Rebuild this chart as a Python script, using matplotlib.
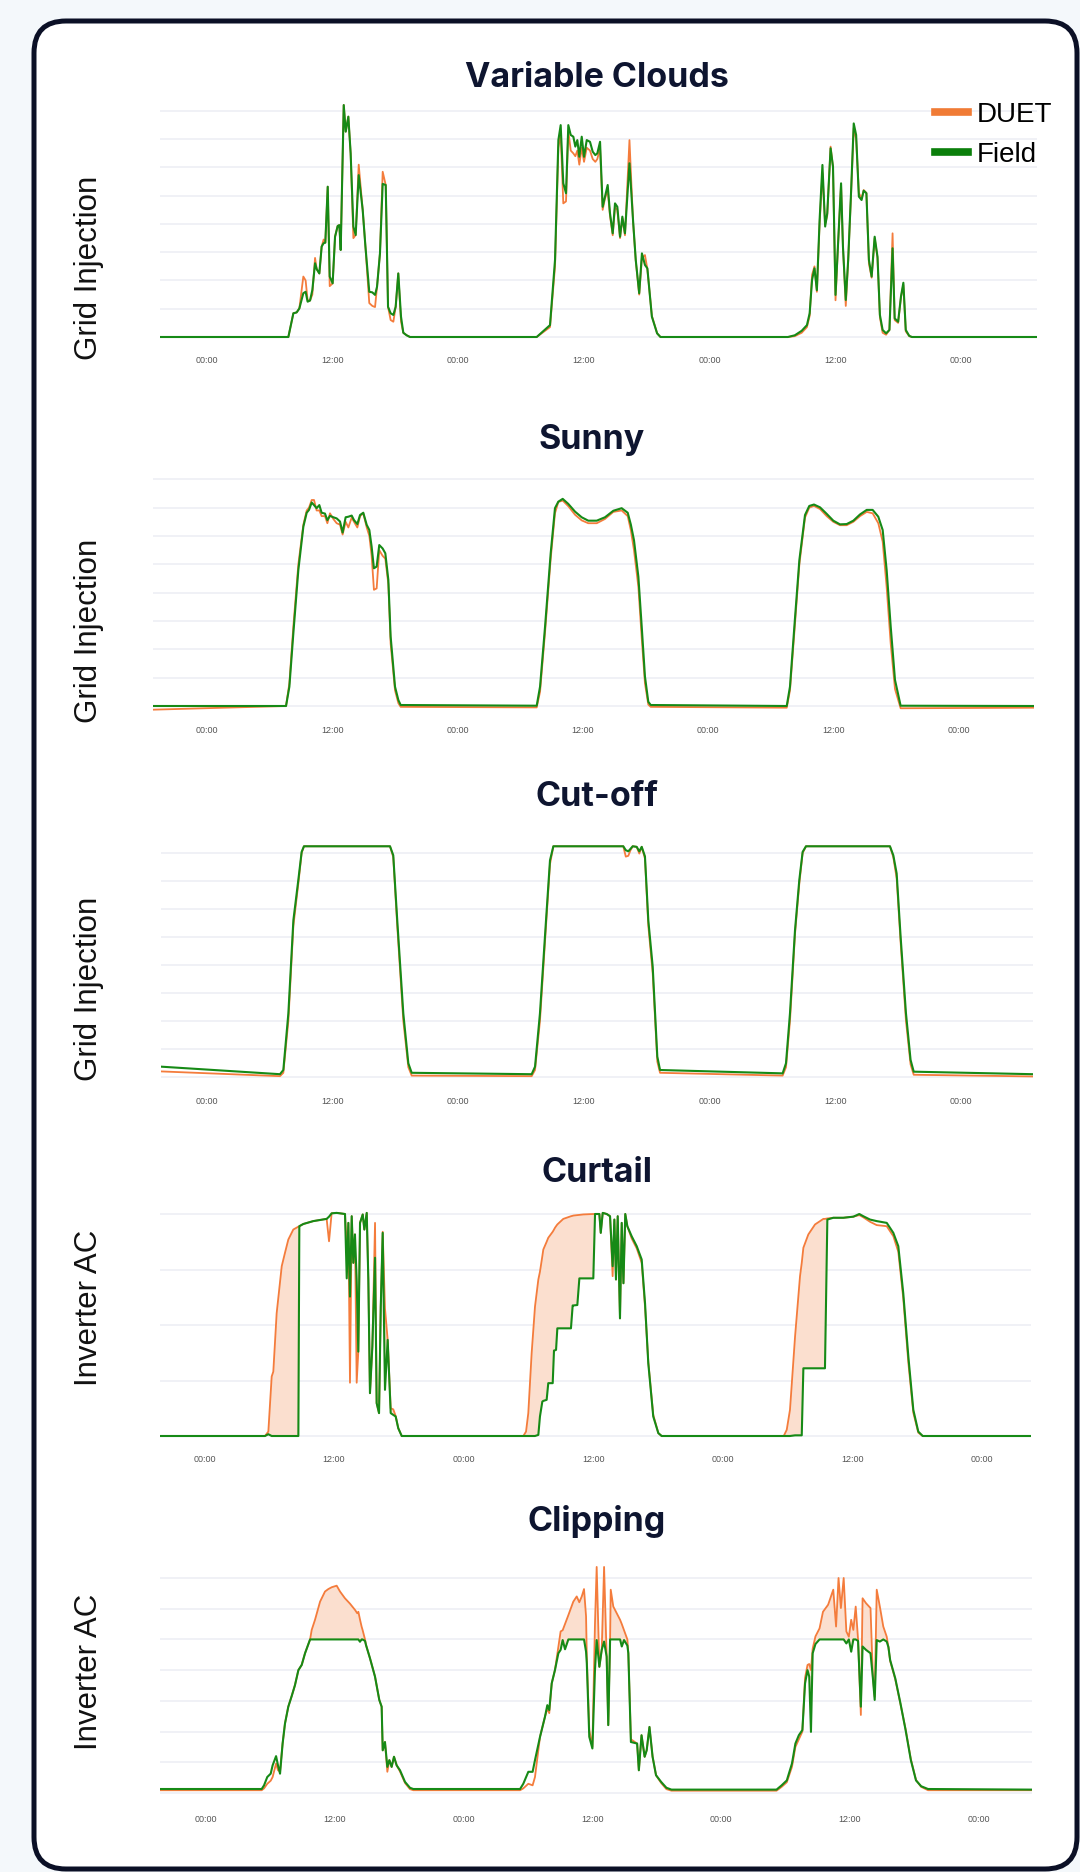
import numpy as np
import matplotlib.pyplot as plt
from matplotlib.lines import Line2D
from matplotlib.patches import FancyBboxPatch
from matplotlib.transforms import Affine2D

W, H = 1080, 1872
DPI = 100

hour_ticks = [0, 12, 24, 36, 48, 60, 72]
hour_labels = ['00:00', '12:00', '00:00', '12:00', '00:00', '12:00', '00:00']

# ---- Variable Clouds (grid injection, arbitrary units) ----
t_clouds = [
    -4.5, 7.77, 8.25, 8.56, 8.82, 9.2, 9.42, 9.61, 9.84, 10.06, 10.32, 10.48, 10.73, 10.95, 11.14, 11.3,
    11.53, 11.72, 12.0, 12.23, 12.48, 12.64, 12.77, 13.06, 13.25, 13.5, 13.72, 13.98, 14.2, 14.49, 14.87,
    15.12, 15.5, 15.79, 16.05, 16.24, 16.52, 16.78, 17.07, 17.29, 17.54, 17.8, 18.02, 18.27, 18.53, 18.75,
    19.07, 19.39,
    31.49, 32.76, 33.24, 33.56, 33.78, 34.03, 34.29, 34.51, 34.74, 34.99, 35.18, 35.37, 35.56, 35.79, 36.01,
    36.27, 36.58, 36.84, 37.09, 37.28, 37.54, 37.79, 38.01, 38.27, 38.49, 38.75, 38.97, 39.19, 39.45, 39.67,
    39.92, 40.35, 40.69, 40.95, 41.28, 41.54, 41.83, 42.06, 42.49, 42.99, 43.31,
    55.48, 56.14, 56.8, 57.3, 57.56, 57.79, 58.02, 58.25, 58.51, 58.78, 59.04, 59.24, 59.56, 59.79, 60.03,
    60.29, 60.56, 60.74, 61.01, 61.24, 61.51, 61.77, 62.0, 62.26, 62.52, 62.72, 62.98, 63.22, 63.48, 63.77,
    64.04, 64.27, 64.53, 64.86, 65.18, 65.48, 65.68, 66.01, 66.28, 66.51, 66.74, 67.07, 67.33, 79.3]
field_clouds = [
    0, 0, 8.4, 8.7, 10.1, 15.5, 16, 12.5, 12.9, 16.6, 26.1, 24, 22.5, 32, 33.2, 33.4,
    53.2, 21.4, 19, 35.5, 39.3, 39.6, 30.8, 82.1, 72.7, 78, 65, 39.1, 36.1, 57.3, 45,
    32.6, 16, 15.8, 14.9, 17.8, 29.6, 54.2, 53.8, 10.7, 8.4, 7.8, 10.7, 22.5, 7.2, 1.5,
    0.6, 0,
    0, 4.2, 27.3, 69.7, 75, 54.4, 50.9, 75, 71.5, 70.9, 67.4, 69.7, 63.8, 70.9, 63.8,
    69.7, 69.1, 65.6, 64.4, 65, 69.1, 46.1, 49.7, 53.8, 43.8, 36.7, 47.3, 46.1, 35.5, 42.6,
    36.7, 61.5, 41.4, 27.3, 15.5, 29.6, 25.5, 24.3, 7.2, 1.3, 0,
    0, 0.6, 2.2, 4.2, 8.4, 20.2, 24.3, 16.6, 41.4, 60.9, 39.1, 43.8, 66.8, 60.3, 14.9,
    34.3, 54.4, 32, 13.1, 27.3, 50.9, 75.6, 71.5, 49.7, 48.5, 51.8, 50.9, 27.3, 21.4, 35.5,
    28.4, 7.8, 2.5, 1.3, 2.5, 31.4, 6.6, 5.4, 14.3, 19.2, 2.5, 0.4, 0, 0]
duet_clouds = [
    0, 0, 8.4, 8.7, 10.1, 21.4, 20, 13, 12.9, 15, 28, 24, 22.5, 32, 34.5, 33.4,
    53.2, 18, 19, 35.5, 39.3, 39.6, 30.8, 82.1, 72.7, 78, 65, 35, 36.1, 61, 45,
    32.6, 12, 11, 10.6, 17.8, 29.6, 58.5, 53.8, 10.7, 6, 5.4, 10.7, 22.5, 5.5, 1.5,
    0.6, 0,
    0, 3.5, 25, 67, 72, 47.3, 48, 73, 66, 65, 64, 66, 61, 67, 62,
    67, 66, 63, 62, 63, 67, 45, 49, 52, 43, 36, 46, 45, 35, 42,
    36, 69.7, 41, 27, 15, 28, 29, 24, 7.5, 1.3, 0,
    0, 0.3, 1.5, 3.5, 7.5, 22, 25, 16, 40, 58, 40, 43, 67.4, 60, 13,
    34, 54, 32, 11, 27, 50, 74, 70, 51, 49, 52, 51, 26, 21, 35,
    28, 7, 1.5, 0.8, 2.5, 36.7, 6, 5, 14, 18.5, 2, 0.3, 0, 0]

# ---- Sunny ----
t_sunny = [
    -5.2, 7.57, 7.89, 8.27, 8.75, 9.23, 9.55, 9.77, 10.03, 10.25, 10.5, 10.76, 10.98, 11.3, 11.53,
    11.78, 12.1, 12.42, 12.74, 12.99, 13.28, 13.54, 13.86, 14.08, 14.4, 14.66, 14.97, 15.3, 15.55, 15.77,
    15.99, 16.25, 16.5, 16.82, 17.08, 17.37, 17.59, 18.01, 18.33, 18.55,
    31.58, 31.9, 32.38, 32.92, 33.33, 33.65, 34.07, 34.61, 35.25, 35.89, 36.52, 37.33, 38.12, 38.92, 39.72,
    40.3, 40.6, 40.9, 41.32, 41.64, 41.95, 42.27, 42.5,
    55.53, 55.84, 56.26, 56.74, 57.28, 57.69, 58.14, 58.72, 59.36, 59.99, 60.63, 61.27, 61.91, 62.55, 63.19,
    63.76, 64.3, 64.72, 65.1, 65.49, 65.9, 66.44, 79.24]
field_sunny = [
    0, 0, 6.8, 25.6, 48, 63.3, 68.2, 69.2, 71.8, 70.9, 69.8, 70.9, 68.2, 67.9, 65.6,
    67.1, 66.6, 66.2, 65.1, 61.2, 66.6, 66.8, 67.2, 65.6, 64.2, 67.4, 68.2, 63.9, 62.1, 56.2,
    48.6, 49.2, 56.8, 55.6, 53.9, 44.5, 24.5, 6.8, 2.1, 0.35,
    0.1, 6.8, 28, 53.9, 69.8, 72.1, 73.1, 71.3, 68.6, 66.6, 65.4, 65.4, 66.6, 68.9, 69.8,
    68.2, 64, 58.5, 45.6, 28, 10.4, 1.5, 0.35,
    0, 6.8, 28, 51.5, 67.4, 70.6, 71.1, 70.1, 67.8, 65.4, 64.1, 64.2, 65.4, 67.6, 69.2,
    69.2, 66.8, 62.1, 48, 28, 9.2, 0.1, 0.0]
duet_sunny = [
    -1.3, 0, 8, 28, 50, 64, 69, 70, 72.7, 72.7, 69, 69, 67, 67, 64.5,
    68, 66, 64.5, 64, 60.5, 65, 63, 66.5, 65, 63, 67, 68, 63, 60, 53,
    41, 41.5, 55, 53, 52, 43, 22, 5.5, 1, -0.3,
    -0.5, 5, 26, 52, 68, 72, 72.5, 70.5, 67.5, 65.5, 64.5, 64.5, 66, 68.5, 69,
    67, 62, 55, 42, 24, 8, 0.5, -0.3,
    -0.6, 5.5, 26, 50, 66.5, 70, 70.6, 69.5, 67, 65, 63.8, 63.8, 65, 67, 68.5,
    68, 64.5, 58, 42, 22, 6, -0.8, -0.6]

# ---- Cut-off ----
t_cutoff = [
    -4.42, 6.97, 7.29, 7.77, 8.25, 8.72, 9.04, 9.26, 17.48, 17.79, 18.17, 18.75, 19.23, 19.55,
    31.01, 31.33, 31.8, 32.38, 32.76, 33.08, 39.76, 40.0, 40.24, 40.45, 40.66, 41.04, 41.29, 41.52,
    41.83, 42.15, 42.57, 43.01, 43.27,
    54.98, 55.3, 55.68, 56.16, 56.57, 56.89, 57.21, 65.23, 65.55, 65.87, 66.25, 66.76, 67.2, 67.5, 78.9]
field_cutoff = [
    3.7, 1.0, 2.5, 22.7, 56, 70.3, 80.4, 82.4, 82.4, 79.2, 56, 22.7, 4.9, 1.5,
    1.0, 3.7, 22.7, 56, 77.4, 82.4, 82.4, 81, 80.6, 81.5, 82.4, 82.2, 80.6, 82.2,
    78.8, 56, 39.4, 7.3, 2.5,
    1.3, 4.9, 22.7, 52.4, 70.3, 80.4, 82.4, 82.4, 79.2, 72.7, 50, 22.7, 6.1, 1.9, 1.0]
duet_cutoff = [
    2.0, 0.3, 1.5, 20, 54, 69, 80, 82.4, 82.4, 78.5, 54, 20, 3.5, 0.5,
    0.3, 2.5, 20, 54, 76, 82.4, 82.4, 78.7, 79, 81, 82.4, 82.2, 79.8, 82.2,
    78, 54, 37, 5.5, 1.5,
    0.5, 3.5, 20, 51, 69, 80, 82.4, 82.4, 78.5, 71, 48, 20, 4.5, 0.8, 0.2]

# ---- Curtail (inverter AC, % of rating) ----
t_curtail = [
    -4.11, 5.61, 5.92, 6.23, 6.38, 6.69, 7.16, 7.46, 7.77, 8.23, 8.7, 8.79, 9.16, 10.08, 11.32,
    11.54, 11.78, 12.25, 13.02, 13.18, 13.33, 13.48, 13.64, 13.79, 13.94, 14.1, 14.25, 14.41, 14.66, 14.81,
    15.03, 15.18, 15.33, 15.55, 15.8, 15.95, 16.17, 16.33, 16.51, 16.72, 16.97, 17.25, 17.49, 17.71, 17.95,
    18.27, 29.53,
    29.78, 29.99, 30.3, 30.61, 30.92, 31.07, 31.29, 31.38, 31.69, 31.84, 32.25, 32.37, 32.46, 32.56, 32.68,
    33.23, 33.94, 34.1, 34.16, 34.53, 34.72, 35.08, 36.01, 36.17, 36.57, 36.7, 36.88, 37.25, 37.56, 37.8,
    37.96, 38.11, 38.27, 38.48, 38.64, 38.8, 38.97, 39.16, 39.56, 40.03, 40.49, 40.8, 41.1, 41.56, 42.03,
    42.34, 53.64,
    53.92, 54.22, 54.69, 55.15, 55.31, 55.46, 55.92, 56.54, 57.31, 57.46, 57.68, 58.23, 59.16, 60.09, 60.64,
    61.01, 61.63, 62.25, 63.18, 63.79, 64.25, 64.71, 65.18, 65.64, 66.1, 66.51, 76.54]
field_curtail = [
    0, 0, 0.8, 0, 0, 0, 0, 0, 0, 0, 0, 94.5, 95.5, 96.8, 97.8,
    98.8, 100.3, 100.5, 100, 71, 96, 62.8, 99, 78, 90.8, 70.3, 38, 96, 99.8, 93,
    100.5, 70.3, 19.3, 40.3, 80.3, 14.8, 10.3, 58.3, 91.5, 20.8, 43.3, 10.3, 9.5, 8.8, 3.5,
    0, 0,
    0, 0, 0, 0, 0.5, 8.8, 15.5, 15.8, 16.3, 23.8, 23.8, 38.5, 38.6, 38.8, 48.5,
    48.5, 48.5, 58.8, 58.8, 59, 71, 71, 71, 100, 100, 91.5, 100.5, 100, 99, 76.5,
    97.5, 70.5, 99, 53, 96, 68.8, 100, 94.5, 90, 85.5, 79.5, 59.8, 32.8, 8.8, 1.3,
    0, 0,
    0, 0, 0.3, 0.3, 0.3, 30.5, 30.5, 30.5, 30.5, 30.5, 97.5, 98.3, 98.3, 98.8, 100,
    99, 97.5, 96.8, 96, 91.5, 85.5, 64.3, 35.8, 11.8, 2, 0, 0]
duet_curtail = [
    0, 0, 2, 26.8, 29, 55.3, 76.5, 82.5, 88.5, 93, 94.3, 94.5, 95.5, 96.8, 97.8,
    87.7, 100.3, 100.5, 100, 85, 96, 24, 99, 78, 90.8, 24, 38, 96, 99.8, 93,
    100.5, 70.3, 19.3, 40.3, 96, 14.8, 10.3, 58.3, 92, 57.5, 43.3, 12.5, 12, 9, 3.5,
    0, 0,
    2, 10.3, 37.3, 58.3, 70.5, 74, 81, 84, 87.5, 89.3, 92, 93, 93.8, 94.5, 95.3,
    97.8, 99, 99.2, 99.3, 99.5, 99.6, 99.8, 100, 100, 100, 91.5, 100.5, 100, 99, 72,
    97.5, 70.5, 99, 53, 96, 68.8, 100, 94.5, 89, 84.5, 78, 58, 33.5, 9.5, 1.3,
    0, 0,
    2.8, 11.8, 44.8, 72, 78, 84.8, 90.8, 95.3, 97.8, 97.8, 98, 98.3, 98.3, 98.8, 99.5,
    98.5, 96.5, 95, 94.5, 90, 83, 62, 33, 10.5, 1.5, 0, 0]

# ---- Clipping (inverter AC, % of rating) ----
t_clipping = [
    -4.29, 5.19, 5.41, 5.71, 6.03, 6.21, 6.53, 6.71, 6.9, 7.14, 7.36, 7.67, 7.99, 8.29, 8.61,
    8.92, 9.23, 9.7, 9.85, 10.16, 10.63, 11.09, 11.4, 11.72, 12.18, 12.49, 12.95, 13.43, 13.89, 14.1,
    14.2, 14.35, 14.5, 14.6, 14.82, 14.91, 15.28, 15.75, 16.15, 16.37, 16.47, 16.68, 16.9, 17.09, 17.3,
    17.52, 17.77, 18.08, 18.55, 19.01, 19.32, 29.27,
    29.57, 30.04, 30.44, 30.66, 31.13, 31.59, 31.81, 31.99, 32.22, 32.52, 32.84, 33.05, 33.24, 33.46, 33.77,
    34.23, 34.55, 34.79, 35.02, 35.23, 35.42, 35.49, 35.72, 36.01, 36.25, 36.41, 36.66, 36.88, 37.1, 37.34,
    37.49, 37.66, 37.72, 37.96, 38.28, 38.59, 38.75, 38.96, 39.27, 39.36, 39.6, 40.18, 40.34, 40.59, 40.88,
    41.07, 41.33, 41.62, 41.94, 42.42, 42.91, 43.38, 53.17,
    53.65, 54.13, 54.61, 54.93, 55.25, 55.58, 55.83, 56.06, 56.22, 56.38, 56.54, 56.8, 57.18, 57.5, 57.98,
    58.46, 58.72, 58.95, 59.17, 59.43, 59.68, 59.91, 60.13, 60.33, 60.55, 60.77, 61.03, 61.19, 61.51, 61.93,
    62.15, 62.32, 62.51, 62.8, 63.12, 63.44, 63.6, 63.76, 64.24, 64.72, 65.2, 65.69, 66.17, 66.65, 67.29,
    77.01]
field_clipping = [
    2.6, 2.6, 5, 10.4, 12.6, 18, 24, 18, 12.6, 32.2, 45.2, 56.2, 63.2, 70.2, 80,
    83.4, 91, 100, 100, 100, 100, 100, 100, 100, 100, 100, 100, 100, 100, 100,
    100, 98.5, 100, 100, 99, 96.4, 87.8, 75.8, 60.6, 56.2, 27.8, 33.2, 17, 21.4, 17,
    23.6, 18, 14.8, 7.2, 3.4, 2.6, 2.6,
    6, 13.8, 13.8, 21.4, 36.6, 49.6, 57.2, 54, 71.4, 80, 91, 93.2, 99.6, 93.6, 100,
    100, 100, 100, 100, 100, 92, 84.4, 36.6, 29, 80, 99.6, 82.2, 93.2, 98.6, 88.8,
    44.2, 100, 100, 100, 100, 100, 95.4, 99.6, 96, 91, 33.2, 32.2, 14.8, 37.6, 23.6,
    27.8, 43, 23.6, 11.6, 7.2, 3.4, 2.2, 2.2,
    5, 8.2, 19.2, 32.2, 37.6, 41, 71.4, 80, 75.8, 39.8, 91, 97, 100, 100, 100,
    100, 100, 100, 100, 100, 97.4, 100, 92, 100, 100, 99, 56.2, 95.4, 93.2, 91,
    75, 60.6, 99.6, 98.6, 100, 98.6, 95, 86.6, 74.6, 58.4, 41, 21.4, 8.2, 4.4, 2.6,
    2.2]
duet_clipping = [
    1.8, 1.8, 3, 6, 8, 10.4, 19.2, 14.8, 14, 32.2, 45.2, 56.2, 63.2, 70.2, 80,
    83.4, 91, 100, 106.2, 112.8, 124.6, 131.2, 132.8, 134, 135, 131.2, 126.8, 123.2, 119.2, 117,
    118, 113, 108.4, 106, 100, 96.4, 87.8, 75.8, 60.6, 56.2, 27.8, 33.2, 13.8, 21.4, 17,
    23.6, 18, 14, 6.5, 2.5, 1.8, 1.8,
    3, 6, 5, 10.4, 36.6, 49.6, 55, 52, 71.4, 80, 95.4, 105.2, 106, 110, 115.8,
    124.6, 128, 124.2, 128, 132.8, 115, 88.8, 41, 30, 110, 147.2, 82.2, 93.2, 147.2, 88.8,
    44.2, 100, 132.4, 121.4, 117, 112.8, 110, 106, 100, 91, 35, 32.2, 14.8, 37.6, 23.6,
    27.8, 43, 23.6, 11.6, 6.5, 2.5, 1.5, 1.5,
    4, 7, 17, 30, 35, 40, 75, 83.4, 84, 80, 94, 102, 107.2, 118, 122.6,
    132.4, 108.4, 140, 120.4, 140, 105.2, 101.8, 112.8, 106.2, 121.4, 100, 50.8, 126.8, 123.6, 120.4,
    75.8, 62.6, 132.4, 121.4, 108.4, 101.8, 95, 86, 74, 58, 41.5, 22, 8.5, 4, 1.8,
    1.8]

DUET_COLOR = '#f47c3c'
FIELD_COLOR = '#168a16'
FILL_COLOR = '#fbdfcf'
TEXT_COLOR = '#0e1530'

# layout in reference pixels: x of 00:00, px per hour, y of 0 gridline, y of top gridline
panels = [
    dict(title='Variable Clouds', ylabel='Grid Injection', t=t_clouds, field=field_clouds, duet=duet_clouds,
         fill=False, x0=207, pxh=10.47, xlim=(-4.5, 79.3), y0=337, ytop=111, top=80, step=10,
         ylim=(-2, 84), title_x=597, title_y=78, label_y=268, tick_y=361),
    dict(title='Sunny', ylabel='Grid Injection', t=t_sunny, field=field_sunny, duet=duet_sunny,
         fill=False, x0=207, pxh=10.44, xlim=(-5.2, 79.24), y0=706, ytop=479.3, top=80, step=10,
         ylim=(-3, 84), title_x=592, title_y=440, label_y=631, tick_y=731),
    dict(title='Cut-off', ylabel='Grid Injection', t=t_cutoff, field=field_cutoff, duet=duet_cutoff,
         fill=False, x0=207, pxh=10.47, xlim=(-4.42, 78.9), y0=1077, ytop=853, top=80, step=10,
         ylim=(-2, 85), title_x=597, title_y=797, label_y=989, tick_y=1102),
    dict(title='Curtail', ylabel='Inverter AC', t=t_curtail, field=field_curtail, duet=duet_curtail,
         fill=True, x0=204.4, pxh=10.8, xlim=(-4.11, 76.54), y0=1436, ytop=1214, top=100, step=25,
         ylim=(-2, 103), title_x=597, title_y=1173, label_y=1308, tick_y=1460),
    dict(title='Clipping', ylabel='Inverter AC', t=t_clipping, field=field_clipping, duet=duet_clipping,
         fill=True, x0=206, pxh=10.73, xlim=(-4.29, 77.01), y0=1793, ytop=1578, top=140, step=20,
         ylim=(-3, 150), title_x=597, title_y=1522, label_y=1672, tick_y=1820),
]


def main():
    fig = plt.figure(figsize=(W / DPI, H / DPI), dpi=DPI)
    fig.patch.set_facecolor('#f4f8fb')

    # rounded card
    px = Affine2D().scale(1.0 / W, 1.0 / H) + fig.transFigure
    card = FancyBboxPatch((34, 3), 1043, 1848, boxstyle='round,pad=0,rounding_size=32',
                          transform=px, facecolor='white', edgecolor='#0b1026', linewidth=3.6,
                          zorder=-5)
    fig.add_artist(card)

    first_ax = None
    for p in panels:
        t = np.array(p['t'])
        field = np.array(p['field'])
        duet = np.array(p['duet'])
        left = p['x0'] + p['xlim'][0] * p['pxh']
        right = p['x0'] + p['xlim'][1] * p['pxh']
        s = (p['y0'] - p['ytop']) / p['top']
        bottom = p['y0'] - p['ylim'][0] * s
        top = p['y0'] - p['ylim'][1] * s
        ax = fig.add_axes([left / W, 1 - bottom / H, (right - left) / W, (bottom - top) / H])
        ax.set_facecolor('none')
        ax.set_xlim(*p['xlim'])
        ax.set_ylim(*p['ylim'])
        for sp in ax.spines.values():
            sp.set_visible(False)
        ax.set_yticks(np.arange(0, p['top'] + p['step'] / 2, p['step']))
        ax.yaxis.grid(True, color='#eceef4', linewidth=1.1)
        ax.set_axisbelow(True)
        pad_px = p['tick_y'] - 4.5 - bottom
        ax.tick_params(axis='y', left=False, labelleft=False)
        ax.set_xticks(hour_ticks)
        ax.set_xticklabels(hour_labels)
        ax.tick_params(axis='x', length=0, pad=pad_px * 72 / DPI, labelsize=6.5, labelcolor='#555555')
        for lab in ax.get_xticklabels():
            lab.set_family('Liberation Sans')

        if p['fill']:
            ax.fill_between(t, field, duet, where=duet > field, interpolate=True,
                            color=FILL_COLOR, linewidth=0, zorder=1)
        ax.plot(t, duet, color=DUET_COLOR, linewidth=1.3, zorder=2)
        ax.plot(t, field, color=FIELD_COLOR, linewidth=1.5, zorder=3)

        fig.text(p['title_x'] / W, 1 - p['title_y'] / H, p['title'], ha='center', va='center',
                 fontsize=24.5, family='Inter', weight='bold', color=TEXT_COLOR)
        fig.text(89 / W, 1 - p['label_y'] / H, p['ylabel'], ha='center', va='center', rotation=90,
                 fontsize=22.5, family='Liberation Sans', color='#111111')
        if first_ax is None:
            first_ax = ax

    handles = [Line2D([], [], color='#f07b35', linewidth=5.5),
               Line2D([], [], color='#0b7f0b', linewidth=5.5)]
    first_ax.legend(handles, ['DUET', 'Field'], loc='upper left',
                    bbox_to_anchor=(935 / W, 1 - 102 / H), bbox_transform=fig.transFigure,
                    frameon=False, prop=dict(family='Liberation Sans', size=20),
                    handlelength=1.2, handletextpad=0.3, labelspacing=0.5,
                    borderpad=0, borderaxespad=0)

    fig.savefig('out.png', dpi=DPI, facecolor=fig.get_facecolor())
    return 0


if __name__ == '__main__':
    main()
